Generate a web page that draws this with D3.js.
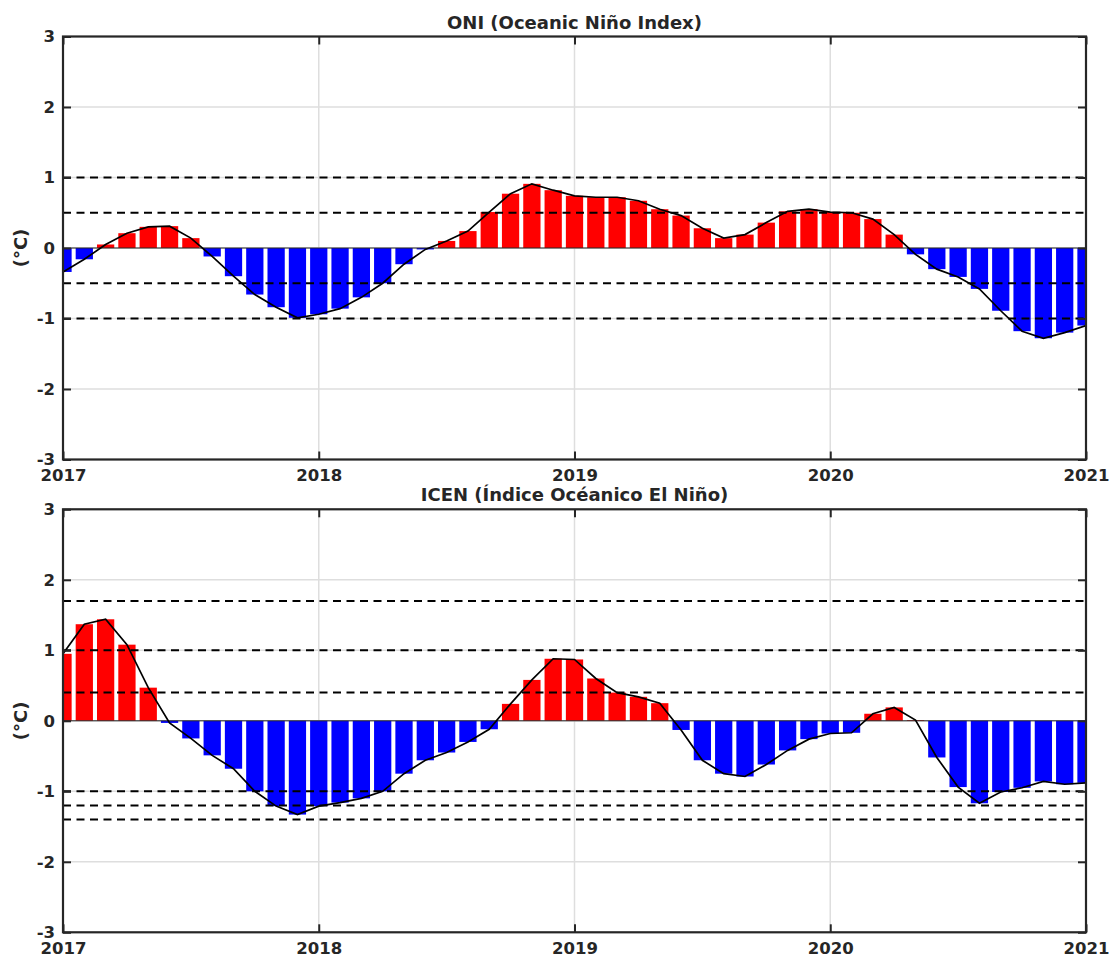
<!DOCTYPE html>
<html>
<head>
<meta charset="utf-8">
<script src="https://cdn.jsdelivr.net/npm/d3@7"></script>
<style>
  body { margin: 0; background: #fff; }
  svg text { font-family: "DejaVu Sans", sans-serif; font-weight: bold; fill: #262626; }
</style>
</head>
<body>
<div id="chart"></div>
<script>
// monthly values, Jan 2017 .. Jan 2021
var startYear = 2017;
var years = [2017, 2018, 2019, 2020, 2021];
var yTicks = [-3, -2, -1, 0, 1, 2, 3];

var oniValues = [
  -0.34, -0.16, 0.05, 0.21, 0.30, 0.31, 0.14, -0.12, -0.40, -0.66, -0.84, -0.99,
  -0.94, -0.86, -0.70, -0.50, -0.23, -0.02, 0.10, 0.24, 0.51, 0.77, 0.91, 0.82,
  0.74, 0.72, 0.72, 0.67, 0.55, 0.46, 0.28, 0.14, 0.19, 0.36, 0.52, 0.55,
  0.51, 0.50, 0.41, 0.19, -0.09, -0.30, -0.41, -0.58, -0.89, -1.18, -1.28, -1.20,
  -1.10
];
var icenValues = [
  0.95, 1.37, 1.44, 1.08, 0.47, -0.03, -0.25, -0.49, -0.68, -1.00, -1.21, -1.33,
  -1.21, -1.16, -1.10, -1.00, -0.75, -0.56, -0.45, -0.30, -0.12, 0.24, 0.58, 0.88,
  0.87, 0.60, 0.40, 0.34, 0.25, -0.13, -0.56, -0.75, -0.79, -0.62, -0.42, -0.26,
  -0.18, -0.17, 0.10, 0.19, 0.01, -0.52, -0.94, -1.17, -1.01, -0.95, -0.86, -0.90,
  -0.88
];
var oniThresholds = [1, 0.5, -0.5, -1];
var icenThresholds = [1.7, 1, 0.4, -1, -1.2, -1.4];

var width = 1111, height = 959;
var margin = {left: 63, right: 25};
var plotW = width - margin.left - margin.right;
var plotH = 423;

var svg = d3.select("#chart").append("svg")
    .attr("width", width)
    .attr("height", height);

var x = d3.scaleLinear()
    .domain([2017, 2021])
    .range([0, plotW]);
var y = d3.scaleLinear()
    .domain([-3, 3])
    .range([plotH, 0]);

var monthW = x(startYear + 1 / 12) - x(startYear);
var barW = monthW * 0.81;
var plain = function(d) { return String(d); };

function drawPanel(top, id, title, values, thresholds) {
  var g = svg.append("g")
      .attr("transform", "translate(" + margin.left + "," + top + ")");

  g.append("clipPath").attr("id", id)
    .append("rect")
      .attr("width", plotW)
      .attr("height", plotH);

  // gridlines
  g.append("g").selectAll("line").data(yTicks).enter().append("line")
      .attr("x1", 0).attr("x2", plotW)
      .attr("y1", function(d) { return y(d); })
      .attr("y2", function(d) { return y(d); })
      .attr("stroke", "#dedede").attr("stroke-width", 1.5);
  g.append("g").selectAll("line").data(years).enter().append("line")
      .attr("y1", 0).attr("y2", plotH)
      .attr("x1", function(d) { return x(d); })
      .attr("x2", function(d) { return x(d); })
      .attr("stroke", "#dedede").attr("stroke-width", 1.5);

  var plot = g.append("g").attr("clip-path", "url(#" + id + ")");

  // bars
  plot.selectAll(".bar")
    .data(values)
    .enter().append("rect")
      .attr("class", "bar")
      .attr("x", function(d, i) { return x(startYear + i / 12) - barW / 2; })
      .attr("width", barW)
      .attr("y", function(d) { return y(Math.max(d, 0)); })
      .attr("height", function(d) { return Math.abs(y(d) - y(0)); })
      .attr("fill", function(d) { return d >= 0 ? "#ff0000" : "#0000ff"; });

  // baseline
  plot.append("line")
      .attr("x1", 0).attr("x2", plotW)
      .attr("y1", y(0)).attr("y2", y(0))
      .attr("stroke", "#262626").attr("stroke-width", 1);

  // threshold lines
  plot.selectAll(".thr")
    .data(thresholds)
    .enter().append("line")
      .attr("class", "thr")
      .attr("x1", 0).attr("x2", plotW)
      .attr("y1", function(d) { return y(d); })
      .attr("y2", function(d) { return y(d); })
      .attr("stroke", "#000")
      .attr("stroke-width", 2)
      .attr("stroke-dasharray", "8,5.5");

  // index curve
  var line = d3.line()
      .x(function(d, i) { return x(startYear + i / 12); })
      .y(function(d) { return y(d); });
  plot.append("path")
      .datum(values)
      .attr("d", line)
      .attr("fill", "none")
      .attr("stroke", "#000")
      .attr("stroke-width", 1.7);

  // axes with inward ticks
  var xb = g.append("g")
      .attr("transform", "translate(0," + plotH + ")")
      .call(d3.axisBottom(x).tickValues(years).tickFormat(plain)
            .tickSizeInner(-8).tickSizeOuter(0).tickPadding(10));
  var xt = g.append("g")
      .call(d3.axisTop(x).tickValues(years).tickFormat("")
            .tickSizeInner(-8).tickSizeOuter(0));
  var yl = g.append("g")
      .call(d3.axisLeft(y).tickValues(yTicks).tickFormat(plain)
            .tickSizeInner(-8).tickSizeOuter(0).tickPadding(8));
  var yr = g.append("g")
      .attr("transform", "translate(" + plotW + ",0)")
      .call(d3.axisRight(y).tickValues(yTicks).tickFormat("")
            .tickSizeInner(-8).tickSizeOuter(0));

  [xb, xt, yl, yr].forEach(function(a) {
    a.select(".domain").remove();
    a.selectAll(".tick line").attr("stroke", "#262626").attr("stroke-width", 2);
    a.selectAll(".tick text").style("font-size", "16.5px").attr("fill", "#262626");
  });
  xb.selectAll(".tick text").attr("dy", "0.71em");

  // box
  g.append("rect")
      .attr("width", plotW)
      .attr("height", plotH)
      .attr("fill", "none")
      .attr("stroke", "#262626")
      .attr("stroke-width", 2.2);

  // title
  g.append("text")
      .attr("x", plotW / 2)
      .attr("y", -8)
      .attr("text-anchor", "middle")
      .style("font-size", "18px")
      .text(title);

  // y label
  g.append("text")
      .attr("transform", "rotate(-90)")
      .attr("x", -y(0))
      .attr("y", -36)
      .attr("text-anchor", "middle")
      .style("font-size", "18px")
      .text("(°C)");
}

drawPanel(36.5, "clipA", "ONI (Oceanic Niño Index)", oniValues, oniThresholds);
drawPanel(509.3, "clipB", "ICEN (Índice Océanico El Niño)", icenValues, icenThresholds);
</script>
</body>
</html>
